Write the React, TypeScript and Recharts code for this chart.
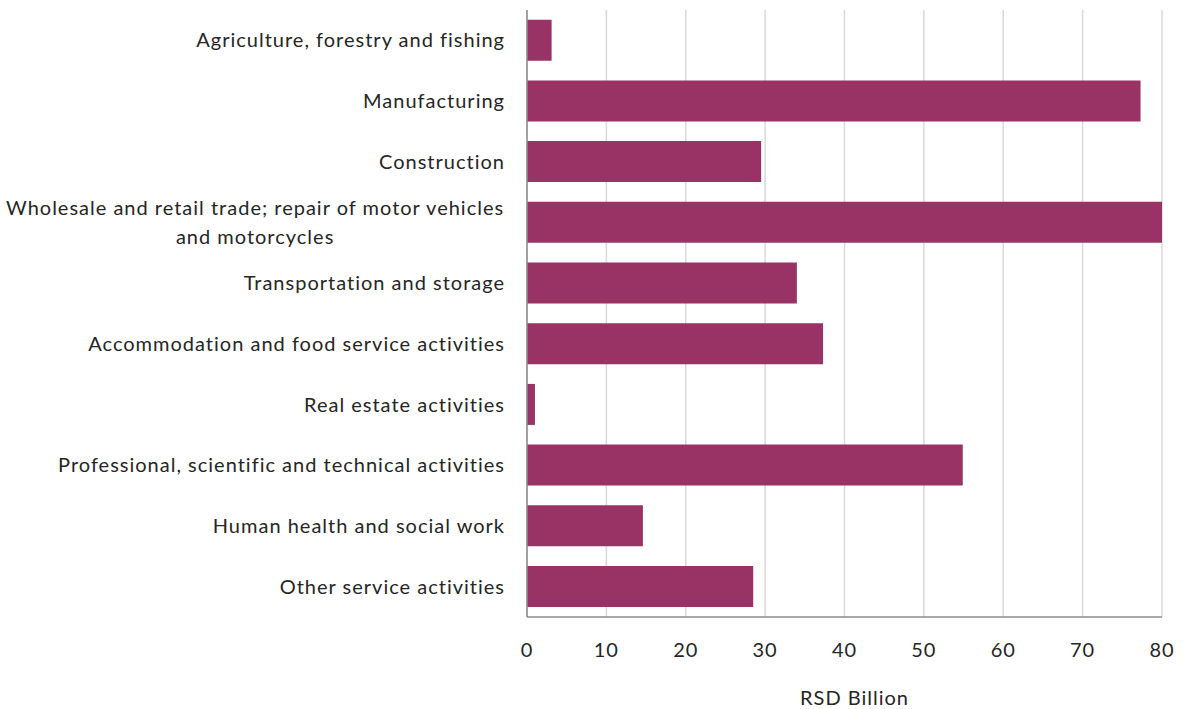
import React from 'react';
import { BarChart, Bar, XAxis, YAxis, CartesianGrid } from 'recharts';

if (typeof document !== 'undefined') {
  document.body.style.margin = '0';
}

const categories = [
  'Agriculture, forestry and fishing',
  'Manufacturing',
  'Construction',
  'Wholesale and retail trade; repair of motor vehicles\nand motorcycles',
  'Transportation and storage ',
  'Accommodation and food service activities',
  'Real estate activities',
  'Professional, scientific and technical activities',
  'Human health and social work',
  'Other service activities',
];

const values = [3.1, 77.3, 29.5, 80.2, 34.0, 37.3, 1.0, 54.9, 14.6, 28.5];

const xTicks = [0, 10, 20, 30, 40, 50, 60, 70, 80];

const data = categories.map((c, i) => ({ name: c, value: values[i] }));

const FONT = 'Lato, "Open Sans", sans-serif';
const FS = 20;
const LS = 1;
const TEXT = '#262626';

let ctx: any = null;
function measure(s: string): number {
  if (!ctx) {
    const c = document.createElement('canvas');
    ctx = c.getContext('2d');
  }
  if (!ctx) return s.length * 9.5;
  ctx.font = `${FS}px Lato`;
  try {
    ctx.letterSpacing = `${LS}px`;
  } catch (e) {}
  return ctx.measureText(s).width;
}

const YTick = (props: any) => {
  const { x, y, payload } = props;
  const lines: string[] = String(payload.value).split('\n');
  if (lines.length === 1) {
    return (
      <text x={x} y={y} dy="0.35em" textAnchor="end" fill={TEXT} fontSize={FS} fontFamily={FONT} letterSpacing={LS}>
        {lines[0]}
      </text>
    );
  }
  const w = measure(lines[0]);
  const cx = x - w / 2;
  const lh = 29;
  const start = y - ((lines.length - 1) * lh) / 2;
  return (
    <g>
      {lines.map((l, i) => (
        <text key={i} x={cx} y={start + i * lh} dy="0.35em" textAnchor="middle" fill={TEXT} fontSize={FS} fontFamily={FONT} letterSpacing={LS}>
          {l}
        </text>
      ))}
    </g>
  );
};

export default function App() {
  return (
    <div style={{ width: 1183, height: 709 }}>
      <BarChart
        width={1183}
        height={709}
        data={data}
        layout="vertical"
        margin={{ top: 10, right: 21, bottom: 0, left: 0 }}
        barCategoryGap="16%"
      >
        <CartesianGrid horizontal={false} stroke="#d9d9d9" strokeWidth={1.5} />
        <XAxis
          type="number"
          domain={[0, 80]}
          ticks={xTicks}
          allowDataOverflow
          height={92}
          tickLine={false}
          tickSize={0}
          tickMargin={26}
          axisLine={{ stroke: '#8c8c8c', strokeWidth: 1.5 }}
          tick={{ fill: TEXT, fontSize: FS, fontFamily: FONT, letterSpacing: LS }}
          label={{
            value: 'RSD Billion',
            position: 'insideBottom',
            offset: 4,
            dx: 10,
            fill: TEXT,
            fontSize: FS,
            fontFamily: FONT,
            letterSpacing: LS,
          }}
        />
        <YAxis
          type="category"
          dataKey="name"
          width={527}
          tickLine={false}
          tickSize={0}
          tickMargin={22}
          interval={0}
          axisLine={{ stroke: '#8c8c8c', strokeWidth: 1.5 }}
          tick={<YTick />}
        />
        <Bar dataKey="value" fill="#993366" isAnimationActive={false} />
      </BarChart>
    </div>
  );
}
